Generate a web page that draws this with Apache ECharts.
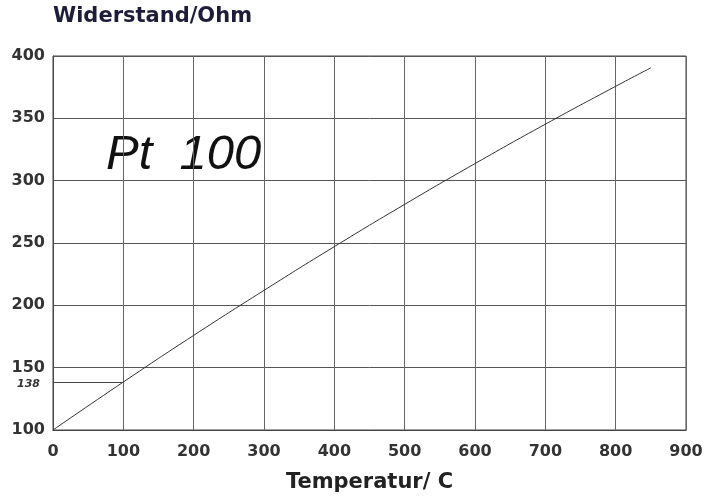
<!DOCTYPE html>
<html><head><meta charset="utf-8">
<script src="https://cdn.jsdelivr.net/npm/echarts@6/dist/echarts.min.js"></script>
<style>html,body{margin:0;padding:0;background:#fff}#c{width:707px;height:498px}</style>
</head><body><div id="c"></div>
<script>
const temperatures = [0, 100, 200, 300, 400, 500, 600, 700, 800, 850];
const resistance = [100, 138.5, 175.9, 212.0, 247.1, 281.0, 313.7, 345.3, 375.7, 390.5];
const refValue = 138.5;
const refLabel = '138';
const titleText = 'Widerstand/Ohm';
const xName = 'Temperatur/ C';
const curveLabel = 'Pt  100';

const chart = echarts.init(document.getElementById('c'), null, {renderer: 'canvas'});
const font = 'DejaVu Sans, Verdana, sans-serif';
const italicFont = 'Liberation Sans, Arial, sans-serif';
chart.setOption({
  animation: false,
  backgroundColor: '#fff',
  title: {
    text: titleText, left: 48, top: 1,
    textStyle: {fontFamily: font, fontSize: 21, fontWeight: 'bold', color: '#1d1d3a'}
  },
  grid: {left: 53, right: 21, top: 56, bottom: 65, show: true, borderColor: '#444', borderWidth: 1},
  xAxis: {
    type: 'value', min: 0, max: 900, interval: 100,
    name: xName, nameLocation: 'middle', nameGap: 42,
    nameTextStyle: {fontFamily: font, fontSize: 21, fontWeight: 'bold', color: '#222'},
    axisLine: {show: true, lineStyle: {color: '#444', width: 1}},
    axisTick: {show: false},
    axisLabel: {fontFamily: font, fontSize: 16, fontWeight: 'bold', color: '#333', margin: 14},
    splitLine: {show: true, lineStyle: {color: '#666', width: 1}}
  },
  yAxis: {
    type: 'value', min: 100, max: 400, interval: 50,
    axisLine: {show: true, lineStyle: {color: '#444', width: 1}},
    axisTick: {show: false},
    axisLabel: {fontFamily: font, fontSize: 16, fontWeight: 'bold', color: '#333', margin: 8},
    splitLine: {show: true, lineStyle: {color: '#555', width: 1}}
  },
  graphic: [{
    type: 'text', left: 106, top: 131,
    style: {text: curveLabel, fontFamily: italicFont, fontSize: 49, fontStyle: 'italic', fill: '#111'}
  }],
  series: [{
    type: 'line',
    data: temperatures.map((t, i) => [t, resistance[i]]),
    smooth: true, showSymbol: false,
    lineStyle: {color: '#333', width: 1},
    markLine: {
      silent: true, symbol: 'none',
      lineStyle: {color: '#444', width: 1, type: 'solid'},
      label: {show: true, position: 'start', formatter: refLabel, fontFamily: font, fontSize: 11, fontStyle: 'italic', fontWeight: 'bold', color: '#333', distance: 13, offset: [0, 2]},
      data: [[{coord: [0, refValue]}, {coord: [100, refValue]}]]
    }
  }]
});
</script></body></html>
